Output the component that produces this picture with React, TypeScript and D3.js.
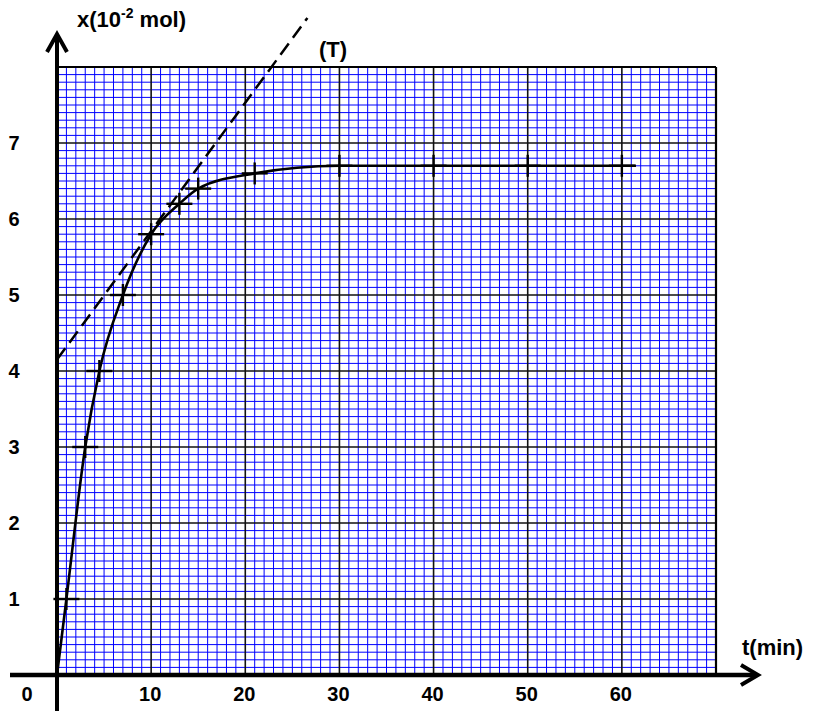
import React from "react";
import * as d3 from "d3";

// measured points (crosses) of x(t)
const timeValues = [1, 3, 4.5, 7, 10, 13, 15, 21, 30, 40, 50, 60];
const amountValues = [1, 3, 4, 5, 5.8, 6.2, 6.4, 6.6, 6.7, 6.7, 6.7, 6.7];
// curve starts at origin and ends a bit after the last measure
const curveStart = [0, 0];
const curveEnd = [61.5, 6.7];
// tangent (T) at t = 10 min
const tangentIntercept = 4.15;
const tangentSlope = 0.169;
const tangentTRange = [0, 26.6];
// axis tick labels
const xTickLabels = [10, 20, 30, 40, 50, 60];
const yTickLabels = [1, 2, 3, 4, 5, 6, 7];

const W = 813;
const H = 711;
const FONT = "'Liberation Sans', Arial, Helvetica, sans-serif";

export default function App() {
  const x = d3.scaleLinear().domain([0, 70]).range([57, 716]);
  const y = d3.scaleLinear().domain([0, 8]).range([675, 67]);

  const minorV = d3.range(0, 71).filter((i) => i % 10 !== 0);
  const minorH = d3.range(0, 81).filter((i) => i % 10 !== 0).map((i) => i / 10);
  const majorV = d3.range(10, 70, 10);
  const majorH = d3.range(1, 8);

  const pts: [number, number][] = [
    [curveStart[0], curveStart[1]],
    ...timeValues.map((t, i) => [t, amountValues[i]] as [number, number]),
    [curveEnd[0], curveEnd[1]],
  ];
  const line = d3
    .line<[number, number]>()
    .x((d) => x(d[0]))
    .y((d) => y(d[1]))
    .curve(d3.curveMonotoneX);

  const t0 = tangentTRange[0];
  const t1 = tangentTRange[1];

  return (
    <svg
      width={W}
      height={H}
      style={{ position: "absolute", left: 0, top: 0, background: "#fff" }}
    >
      <rect x={0} y={0} width={W} height={H} fill="#fff" />
      {/* minor grid */}
      <g stroke="#0000ff" strokeWidth={1}>
        {minorV.map((t) => (
          <line key={"mv" + t} x1={x(t)} x2={x(t)} y1={y(8)} y2={y(0)} />
        ))}
        {minorH.map((v) => (
          <line key={"mh" + v} x1={x(0)} x2={x(70)} y1={y(v)} y2={y(v)} />
        ))}
      </g>
      {/* major grid */}
      <g stroke="#111" strokeWidth={1.6}>
        {majorV.map((t) => (
          <line key={"Mv" + t} x1={x(t)} x2={x(t)} y1={y(8)} y2={y(0)} />
        ))}
        {majorH.map((v) => (
          <line key={"Mh" + v} x1={x(0)} x2={x(70)} y1={y(v)} y2={y(v)} />
        ))}
      </g>
      {/* border */}
      <line x1={x(0)} x2={x(70)} y1={y(8)} y2={y(8)} stroke="#000" strokeWidth={2.2} />
      <line x1={x(70)} x2={x(70)} y1={y(8)} y2={y(0)} stroke="#000" strokeWidth={2.2} />

      {/* tangent */}
      <line
        x1={x(t0)}
        y1={y(tangentIntercept + tangentSlope * t0)}
        x2={x(t1)}
        y2={y(tangentIntercept + tangentSlope * t1)}
        stroke="#000"
        strokeWidth={2.5}
        strokeDasharray="14 7"
      />

      {/* curve */}
      <path d={line(pts) || ""} fill="none" stroke="#000" strokeWidth={2.6} />

      {/* crosses */}
      <g stroke="#000" strokeWidth={2.4}>
        {timeValues.map((t, i) => (
          <g key={"c" + t}>
            <line x1={x(t) - 13} x2={x(t) + 13} y1={y(amountValues[i])} y2={y(amountValues[i])} />
            <line x1={x(t)} x2={x(t)} y1={y(amountValues[i]) - 11} y2={y(amountValues[i]) + 11} />
          </g>
        ))}
      </g>

      {/* axes */}
      <line x1={x(0)} x2={x(0)} y1={711} y2={34} stroke="#000" strokeWidth={4} />
      <line x1={10} x2={757} y1={y(0)} y2={y(0)} stroke="#000" strokeWidth={4.5} />
      <polyline
        points={`${x(0) - 10},52 ${x(0)},34 ${x(0) + 10},52`}
        fill="none"
        stroke="#000"
        strokeWidth={4}
      />
      <polyline
        points={`741,${y(0) - 10} 758,${y(0)} 741,${y(0) + 10}`}
        fill="none"
        stroke="#000"
        strokeWidth={4}
      />

      {/* labels */}
      <g fontFamily={FONT} fontWeight="bold" fill="#000" fontSize={20}>
        {xTickLabels.map((t) => (
          <text key={"xt" + t} x={x(t) - 1} y={701} textAnchor="middle">
            {t}
          </text>
        ))}
        <text x={27} y={701} textAnchor="middle">0</text>
        {yTickLabels.map((v) => (
          <text key={"yt" + v} x={14} y={y(v) + 7} textAnchor="middle">
            {v}
          </text>
        ))}
        <text x={77} y={27} fontSize={22}>
          x(10
          <tspan dy={-9} fontSize={14}>-2</tspan>
          <tspan dy={9}> mol)</tspan>
        </text>
        <text x={319} y={57} fontSize={22}>(T)</text>
        <text x={742} y={655} fontSize={22}>t(min)</text>
      </g>
    </svg>
  );
}
